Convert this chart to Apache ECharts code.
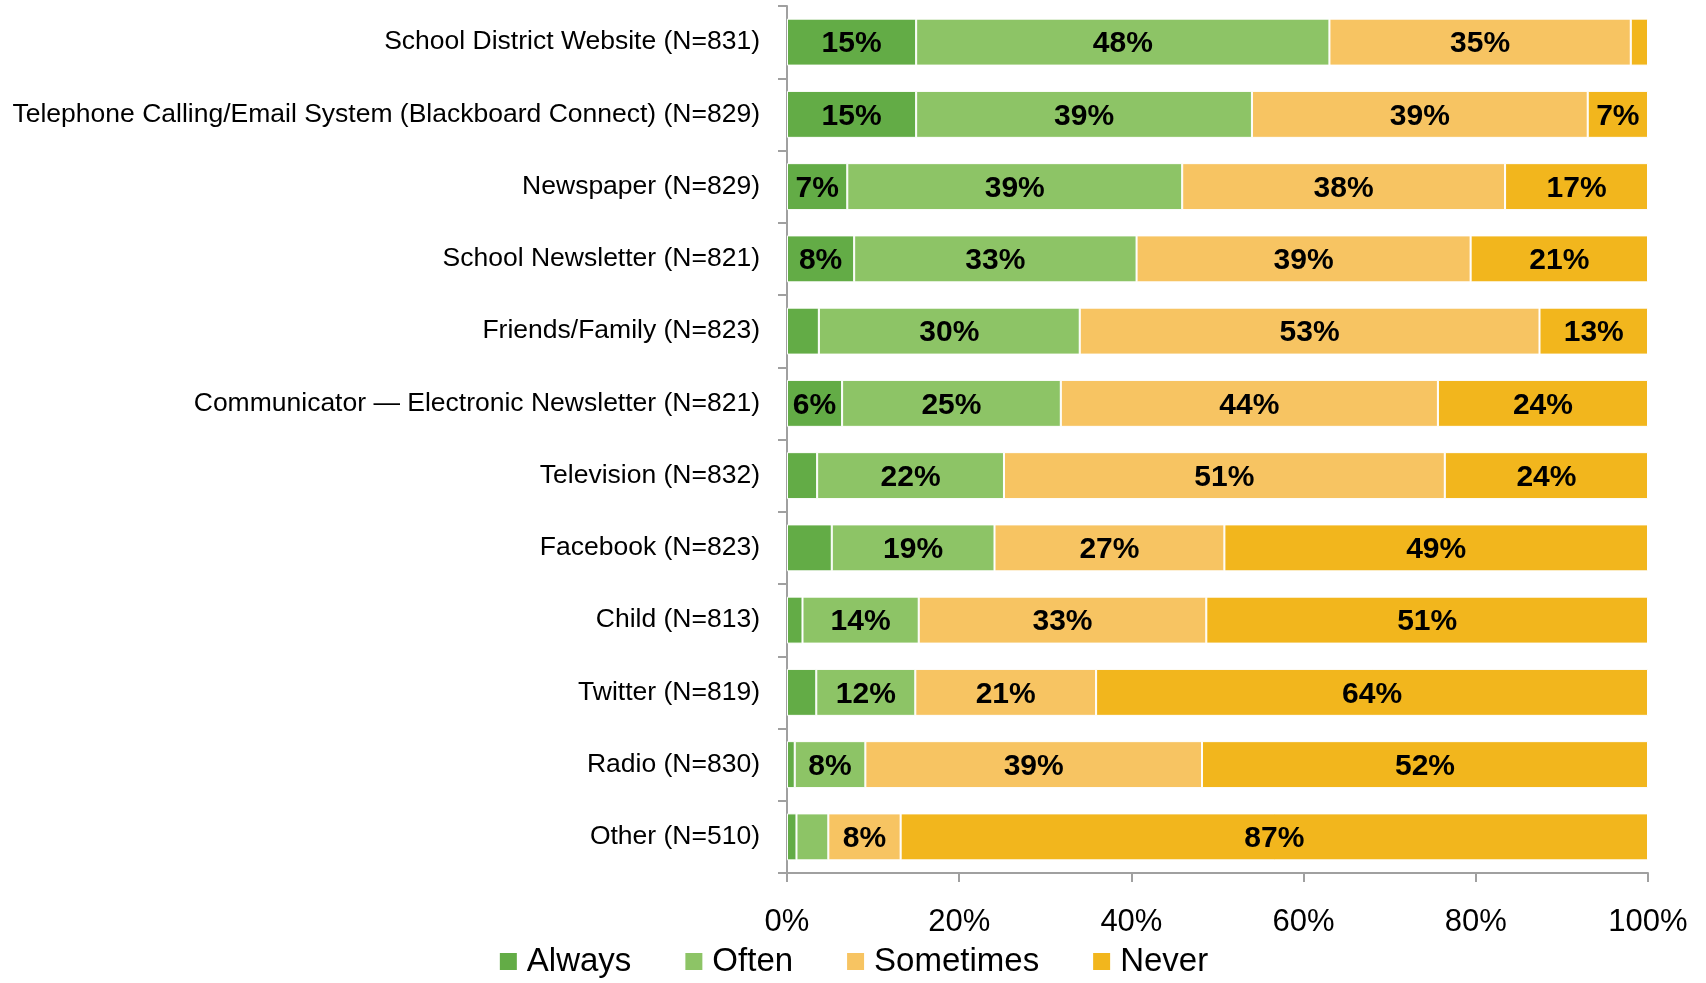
<!DOCTYPE html>
<html>
<head>
<meta charset="utf-8">
<script src="https://cdn.jsdelivr.net/npm/echarts@6/dist/echarts.min.js"></script>
<style>
html, body { margin: 0; padding: 0; background: #fff; }
#chart { width: 1706px; height: 983px; }
</style>
</head>
<body>
<div id="chart"></div>
<script>
var categories = [
	'School District Website (N=831)',
	'Telephone Calling/Email System (Blackboard Connect) (N=829)',
	'Newspaper (N=829)',
	'School Newsletter (N=821)',
	'Friends/Family (N=823)',
	'Communicator \u2014 Electronic Newsletter (N=821)',
	'Television (N=832)',
	'Facebook (N=823)',
	'Child (N=813)',
	'Twitter (N=819)',
	'Radio (N=830)',
	'Other (N=510)'
];
var always    = [15, 15, 7, 7.8, 3.7, 6.4, 3.5, 5.2, 1.8, 3.4, 0.9, 1.1];
var often     = [48, 39, 38.9, 32.8, 30.3, 25.4, 21.7, 18.9, 13.5, 11.5, 8.2, 3.7];
var sometimes = [35, 39, 37.5, 38.8, 53.4, 43.8, 51.2, 26.7, 33.4, 21, 39.1, 8.4];
var never     = [2, 7, 16.6, 20.6, 12.6, 24.4, 23.6, 49.2, 51.3, 64.1, 51.8, 86.8];

var seriesNames = ['Always', 'Often', 'Sometimes', 'Never'];
var seriesData = [always, often, sometimes, never];
var colors = ['#63AC46', '#8DC466', '#F7C462', '#F2B61D'];

var myChart = echarts.init(document.getElementById('chart'));

var series = seriesNames.map(function(name, i) {
	return {
		name: name,
		type: 'bar',
		stack: 'total',
		barCategoryGap: '35%',
		data: seriesData[i],
		itemStyle: { color: colors[i], borderColor: '#fff', borderWidth: 1 },
		label: {
			show: true,
			position: 'inside',
			color: '#000',
			fontWeight: 'bold',
			fontSize: 30,
			fontFamily: 'Liberation Sans',
			offset: [0, 2],
			formatter: function(p) {
				return p.value >= 5.5 ? Math.round(p.value) + '%' : '';
			}
		}
	};
});

myChart.setOption({
	animation: false,
	color: colors,
	textStyle: { fontFamily: 'Liberation Sans' },
	grid: { left: 787, right: 58, top: 6, bottom: 110 },
	legend: {
		bottom: 0,
		left: 'center',
		itemWidth: 19,
		itemHeight: 19,
		itemGap: 52,
		icon: 'rect',
		textStyle: { fontSize: 33, color: '#000', padding: [0, 0, 0, 4] },
		data: seriesNames
	},
	xAxis: {
		type: 'value',
		min: 0,
		max: 100,
		interval: 20,
		axisLine: { show: true, lineStyle: { color: '#A0A0A0', width: 2 } },
		axisTick: { show: true, length: 9, lineStyle: { color: '#A0A0A0', width: 2 } },
		splitLine: { show: false },
		axisLabel: { formatter: '{value}%', fontSize: 31, color: '#000', margin: 34 }
	},
	yAxis: {
		type: 'category',
		inverse: true,
		data: categories,
		axisLine: { show: true, lineStyle: { color: '#A0A0A0', width: 2 } },
		axisTick: { show: true, length: 9, lineStyle: { color: '#A0A0A0', width: 2 } },
		axisLabel: { fontSize: 26.5, color: '#000', margin: 27 }
	},
	series: series
});
</script>
</body>
</html>
